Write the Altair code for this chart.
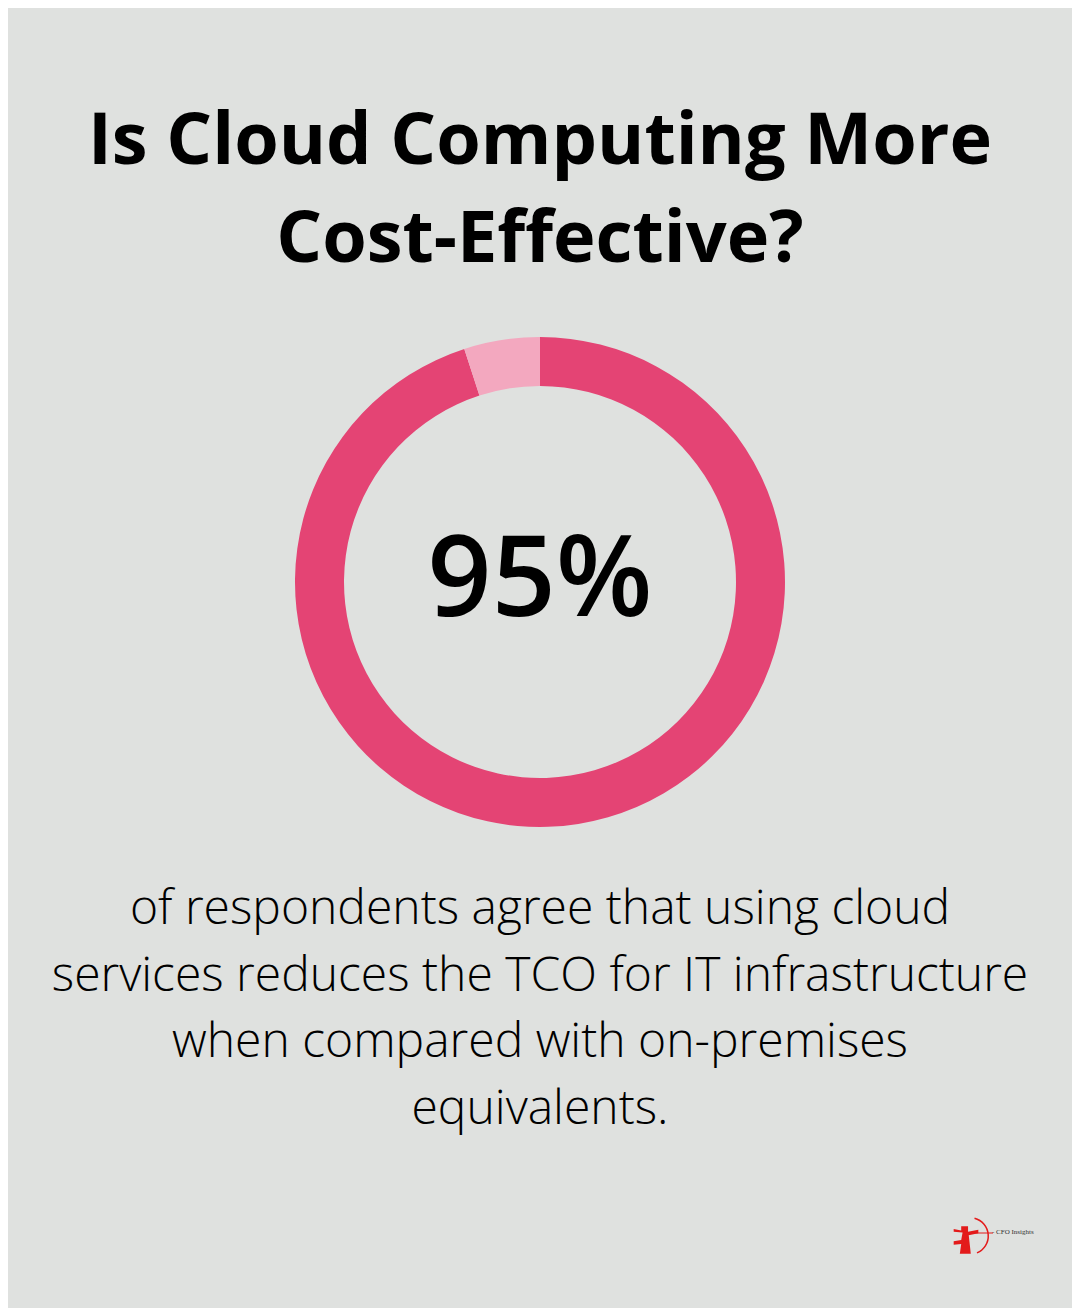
import altair as alt
import pandas as pd

# Data
categories = ["Agree", "Other"]
values = [95, 5]
colors = ["#e44474", "#f3a8bf"]

title_lines = ["Is Cloud Computing More", "Cost-Effective?"]
big_number = "95%"
body_lines = [
    "of respondents agree that using cloud",
    "services reduces the TCO for IT infrastructure",
    "when compared with on-premises",
    "equivalents.",
]
logo_text = "- CFO Insights"

df = pd.DataFrame({"category": categories, "value": values, "order": [0, 1]})
one = pd.DataFrame({"k": [0]})

W, H = 1064, 1300
CX, CY = 532, 574

donut = alt.Chart(df).mark_arc(innerRadius=196, outerRadius=245).encode(
    theta=alt.Theta("value:Q", stack=True),
    order=alt.Order("order:Q"),
    color=alt.Color("category:N", scale=alt.Scale(domain=categories, range=colors), legend=None),
    x=alt.value(CX),
    y=alt.value(CY),
)

title = alt.Chart(one).mark_text(
    text=title_lines, font="Open Sans", fontWeight="bold", fontSize=72,
    lineHeight=98, align="center", baseline="alphabetic", color="#000000",
).encode(x=alt.value(CX), y=alt.value(156))

number = alt.Chart(one).mark_text(
    text=big_number, font="Open Sans", fontWeight=600, fontSize=112,
    align="center", baseline="alphabetic", color="#000000",
).encode(x=alt.value(CX), y=alt.value(608))

body = alt.Chart(one).mark_text(
    text=body_lines, font="Open Sans", fontWeight=300, fontSize=48,
    lineHeight=66.5, align="center", baseline="alphabetic", color="#000000",
).encode(x=alt.value(CX), y=alt.value(916))

LOGO_RED = "#e31b1b"

logo_arc = alt.Chart(one).mark_arc(
    innerRadius=17.5, outerRadius=19, theta=0.25, theta2=2.75, color=LOGO_RED,
).encode(x=alt.value(962), y=alt.value(1228))

logo_arrow = alt.Chart(one).mark_rule(color=LOGO_RED, strokeWidth=1).encode(
    x=alt.value(958), x2=alt.value(985), y=alt.value(1225), y2=alt.value(1225)
)

logo_fig = alt.Chart(one).mark_point(
    shape="M-0.35,-1 L0.15,-1 L0.15,-0.6 L0.9,-0.75 L0.9,-0.5 L0.2,-0.35 L0.35,1 L-0.45,1 L-0.35,0.3 L-0.9,0.35 L-0.9,0.1 L-0.35,0 L-0.25,-0.55 L-0.9,-0.6 L-0.9,-0.8 L-0.35,-0.7 Z",
    filled=True, size=750, color=LOGO_RED, opacity=1, strokeWidth=0,
).encode(x=alt.value(958), y=alt.value(1232))

logo_label = alt.Chart(one).mark_text(
    text=logo_text, font="Liberation Serif", fontSize=7, align="left",
    baseline="middle", color="#333333",
).encode(x=alt.value(984), y=alt.value(1224))

chart = alt.layer(donut, title, number, body, logo_arc, logo_arrow, logo_fig, logo_label).properties(
    width=W, height=H, autosize=alt.AutoSizeParams(type="none"), padding=0,
).configure(background="#dfe1df").configure_view(stroke=None)

chart.save("out.html", embed_options={"renderer": "svg", "actions": False})
